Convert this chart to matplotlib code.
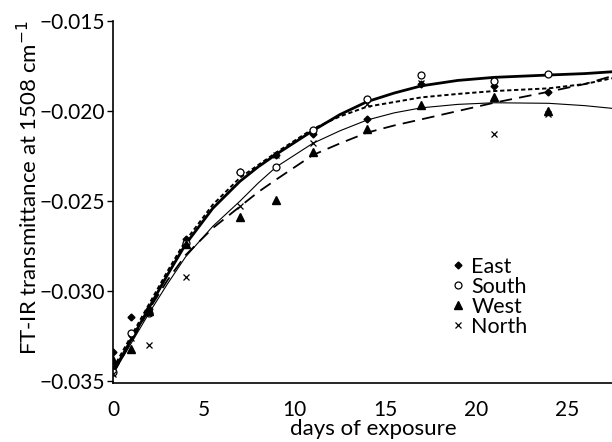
import matplotlib
matplotlib.use("Agg")
import matplotlib.pyplot as plt

plt.rcParams['font.family'] = ['Lato', 'DejaVu Sans']

# дни экспозиции
days = [0, 1, 2, 4, 7, 9, 11, 14, 17, 21, 24]

# измеренные значения по сторонам
east = [-0.0334, -0.03143, -0.0310, -0.0271, -0.0234, -0.02244, -0.02128, -0.02044, -0.01852, -0.01861, -0.01893]
south = [-0.0345, -0.0323, -0.0312, -0.0273, -0.0234, -0.0231, -0.02106, -0.01933, -0.0180, -0.01832, -0.01794]
west = [-0.0338, -0.0332, -0.0311, -0.0274, -0.02587, -0.02494, -0.02226, -0.0210, -0.01967, -0.0192, -0.01998]
north = [-0.0346, -0.0326, -0.0330, -0.0292, -0.02526, -0.02244, -0.02178, -0.0196, -0.01844, -0.02128, -0.02017]

# линии тренда
trend_days = [0, 1, 2, 3, 4, 5.5, 7, 8, 9, 11, 12.5, 14, 15.5, 17, 19, 21, 24, 26, 27.5]
east_trend = [-0.0343, -0.0325, -0.0307, -0.0289, -0.0272, -0.0252, -0.0237, -0.0230, -0.0223, -0.0210,
              -0.0203, -0.01976, -0.0195, -0.01924, -0.01905, -0.01889, -0.01874, -0.0185, -0.01818]
south_trend = [-0.0345, -0.0327, -0.0309, -0.0291, -0.0274, -0.0254, -0.0239, -0.0231, -0.0224, -0.0211,
               -0.0202, -0.01948, -0.0190, -0.0186, -0.0183, -0.01813, -0.0180, -0.01792, -0.01782]
west_trend = [-0.0346, -0.0328, -0.0310, -0.0294, -0.0280, -0.0265, -0.0253, -0.0245, -0.0238, -0.02245,
              -0.0218, -0.0212, -0.0208, -0.02046, -0.0200, -0.01954, -0.01893, -0.0185, -0.01806]
north_trend = [-0.0346, -0.0329, -0.0312, -0.0296, -0.0281, -0.0264, -0.0250, -0.0240, -0.0231, -0.0218,
               -0.0211, -0.0205, -0.0201, -0.01982, -0.01963, -0.01954, -0.01957, -0.0197, -0.01985]

labels = ["East", "South", "West", "North"]
x_ticks = [0, 5, 10, 15, 20, 25]
y_ticks = [-0.035, -0.030, -0.025, -0.020, -0.015]

fig = plt.figure(figsize=(6.12, 4.42), dpi=100)
ax = fig.add_axes([0.1846, 0.1335, 0.8154, 0.819])

# тренды
ax.plot(trend_days, east_trend, color='black', lw=1.4, ls=(0, (2.2, 1.4)))
ax.plot(trend_days, south_trend, color='black', lw=2.0, ls='-')
ax.plot(trend_days, west_trend, color='black', lw=1.3, ls=(0, (7, 4)))
ax.plot(trend_days, north_trend, color='black', lw=0.8, ls='-')

# точки
ax.plot(days, east, ls='none', marker='D', ms=3.5, color='black', label=labels[0])
ax.plot(days, south, ls='none', marker='o', ms=5, mfc='white', mec='black', mew=0.9, label=labels[1])
ax.plot(days, west, ls='none', marker='^', ms=5.5, color='black', label=labels[2])
ax.plot(days, north, ls='none', marker='x', ms=5, color='black', mew=0.9, label=labels[3])

ax.set_xlim(0, 27.5)
ax.set_ylim(-0.0351, -0.015)
ax.set_xticks(x_ticks)
ax.set_yticks(y_ticks)
ax.set_yticklabels([f"{v:.3f}".replace('-', '\u2212') for v in y_ticks])
ax.tick_params(axis='x', length=0, labelsize=15, pad=12)
ax.tick_params(axis='y', length=4, width=1, labelsize=15, pad=2)
ax.spines['top'].set_visible(False)
ax.spines['right'].set_visible(False)
ax.spines['left'].set_linewidth(1.2)
ax.spines['bottom'].set_linewidth(1.2)
ax.set_xlabel("days of exposure", fontsize=16)
ax.set_ylabel("FT-IR transmittance at 1508 cm$^{-1}$", fontsize=16)
ax.xaxis.set_label_coords(0.521, -0.1)
ax.yaxis.set_label_coords(-0.144, 0.54)

ax.legend(loc='upper left', bbox_to_anchor=(0.679, 0.348), frameon=False, fontsize=15.5,
          handlelength=0.6, handletextpad=0.3, borderpad=0, labelspacing=0.0, borderaxespad=0)

fig.savefig("out.png", dpi=100)
